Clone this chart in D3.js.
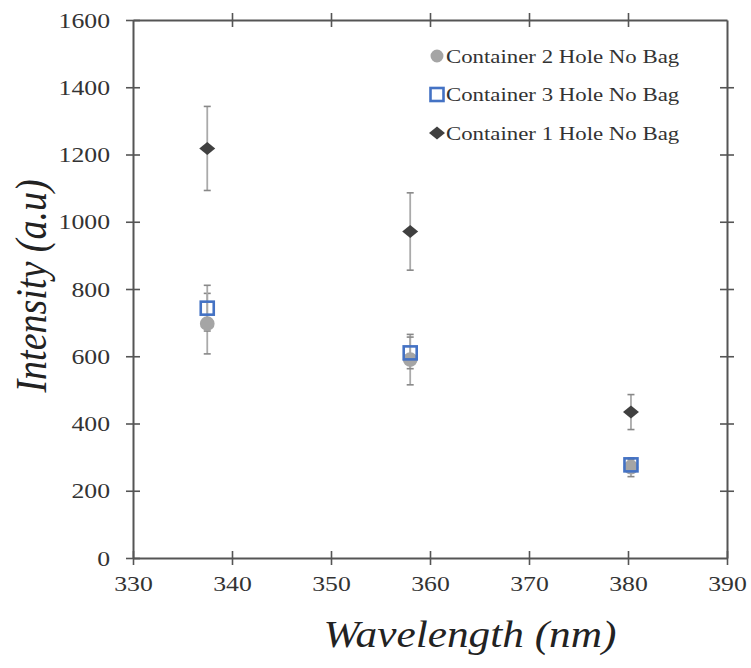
<!DOCTYPE html>
<html>
<head>
<meta charset="utf-8">
<script src="https://cdnjs.cloudflare.com/ajax/libs/d3/7.8.5/d3.min.js"></script>
<style>
  html, body { margin: 0; padding: 0; background: #fff; }
  svg { display: block; }
</style>
</head>
<body>
<svg id="chart" width="751" height="668"></svg>
<script>
// Excitation wavelengths (nm) and mean intensities with standard deviations
const wavelengths = [337.5, 358, 380.3];

const c2Values = [697, 590, 270];
const c2Errors = [90, 75, 28];

const c3Values = [743, 610, 277];
const c3Errors = [68, 47, 15];

const c1Values = [1218, 971, 434];
const c1Errors = [125, 115, 52];

const seriesNames = ["Container 2 Hole No Bag", "Container 3 Hole No Bag", "Container 1 Hole No Bag"];

const xTicks = [330, 340, 350, 360, 370, 380, 390];
const yTicks = [0, 200, 400, 600, 800, 1000, 1200, 1400, 1600];

const svg = d3.select("#chart");
const plotLeft = 133, plotRight = 727, plotTop = 20, plotBottom = 558;
const widen = 1.17; // horizontal stretch applied to all lettering

const x = d3.scaleLinear().domain([330, 390]).range([plotLeft, plotRight]);
const y = d3.scaleLinear().domain([0, 1600]).range([plotBottom, plotTop]);

const axisColor = "#555";
const textColor = "#333";
const serif = "'Liberation Serif', 'Times New Roman', serif";

// Stretch horizontal text by a fixed factor
function stretch(sel) {
  sel.each(function () {
    const w = this.getComputedTextLength();
    d3.select(this).attr("textLength", w * widen).attr("lengthAdjust", "spacingAndGlyphs");
  });
}

function styleAxis(g) {
  g.attr("font-family", serif);
  g.select(".domain").attr("stroke", axisColor).attr("stroke-width", 2);
  g.selectAll(".tick line").attr("stroke", axisColor).attr("stroke-width", 1.6);
}

const tickFont = g => g.selectAll("text")
  .attr("fill", textColor)
  .style("font-family", serif)
  .style("font-size", "22px")
  .call(stretch);

const fmt = d3.format("d");

// Frame with ticks crossing every side
svg.append("g").attr("transform", `translate(0,${plotBottom})`)
  .call(d3.axisBottom(x).tickValues(xTicks).tickFormat(fmt).tickSize(7).tickSizeOuter(0).tickPadding(10))
  .call(g => g.selectAll(".tick line").attr("y1", -7))
  .call(styleAxis).call(tickFont);

svg.append("g").attr("transform", `translate(0,${plotTop})`)
  .call(d3.axisTop(x).tickValues(xTicks.slice(1, -1)).tickSize(7).tickSizeOuter(0).tickFormat(""))
  .call(g => g.selectAll(".tick line").attr("y1", 7))
  .call(styleAxis);

svg.append("g").attr("transform", `translate(${plotLeft},0)`)
  .call(d3.axisLeft(y).tickValues(yTicks).tickFormat(fmt).tickSize(7).tickSizeOuter(0).tickPadding(16))
  .call(g => g.selectAll(".tick line").attr("x1", 7))
  .call(styleAxis).call(tickFont);

svg.append("g").attr("transform", `translate(${plotRight},0)`)
  .call(d3.axisRight(y).tickValues(yTicks.slice(1, -1)).tickSize(7).tickSizeOuter(0).tickFormat(""))
  .call(g => g.selectAll(".tick line").attr("x1", -7))
  .call(styleAxis);

// Axis titles
svg.append("text")
  .attr("x", 470).attr("y", 647)
  .attr("text-anchor", "middle")
  .attr("fill", "#222")
  .style("font-family", serif).style("font-style", "italic").style("font-size", "37px")
  .text("Wavelength (nm)")
  .call(stretch);

svg.append("text")
  .attr("transform", `translate(46,286) scale(${widen},1) rotate(-90)`)
  .attr("text-anchor", "middle")
  .attr("fill", "#222")
  .style("font-family", serif).style("font-style", "italic").style("font-size", "38px")
  .text("Intensity (a.u)");

// Error bars
function errorBars(vals, errs) {
  const g = svg.append("g");
  const rows = wavelengths.map((w, i) => ({ w, v: vals[i], e: errs[i] }));
  g.selectAll("line.stem").data(rows).join("line")
    .attr("class", "stem")
    .attr("x1", d => x(d.w)).attr("x2", d => x(d.w))
    .attr("y1", d => y(d.v + d.e)).attr("y2", d => y(d.v - d.e))
    .attr("stroke", "#aaa").attr("stroke-width", 1.8);
  ["top", "bot"].forEach(side => {
    g.selectAll(`line.${side}`).data(rows).join("line")
      .attr("class", side)
      .attr("x1", d => x(d.w) - 3.5).attr("x2", d => x(d.w) + 3.5)
      .attr("y1", d => y(side === "top" ? d.v + d.e : d.v - d.e))
      .attr("y2", d => y(side === "top" ? d.v + d.e : d.v - d.e))
      .attr("stroke", "#888").attr("stroke-width", 1.6);
  });
}

errorBars(c2Values, c2Errors);
errorBars(c3Values, c3Errors);
errorBars(c1Values, c1Errors);

// Markers
const circleSym = d3.symbol().type(d3.symbolCircle).size(170);
const diamondSym = d3.symbol().type(d3.symbolSquare).size(105);

function drawCircle(sel, cx, cy, s) {
  sel.append("path").attr("d", circleSym()).attr("transform", `translate(${cx},${cy}) scale(${s || 1})`)
    .attr("fill", "#a5a5a5");
}
function drawSquare(sel, cx, cy) {
  sel.append("rect").attr("x", cx - 6.5).attr("y", cy - 6.5).attr("width", 13).attr("height", 13)
    .attr("fill", "none").attr("stroke", "#4472c4").attr("stroke-width", 2.6);
}
function drawDiamond(sel, cx, cy) {
  sel.append("path").attr("d", diamondSym())
    .attr("transform", `translate(${cx},${cy}) scale(1.1,0.9) rotate(45)`)
    .attr("fill", "#404040");
}

const marks = svg.append("g");
wavelengths.forEach((w, i) => drawCircle(marks, x(w), y(c2Values[i])));
wavelengths.forEach((w, i) => drawSquare(marks, x(w), y(c3Values[i])));
wavelengths.forEach((w, i) => drawDiamond(marks, x(w), y(c1Values[i])));

// Legend
const drawers = [drawCircle, drawSquare, drawDiamond];
const legend = svg.append("g");
seriesNames.forEach((name, i) => {
  const ly = 56 + i * 38.5;
  drawers[i](legend, 437, ly, 0.88);
  legend.append("text")
    .attr("x", 446).attr("y", ly + 6.5)
    .attr("fill", textColor)
    .style("font-family", serif).style("font-size", "19.5px")
    .text(name)
    .call(stretch);
});
</script>
</body>
</html>
